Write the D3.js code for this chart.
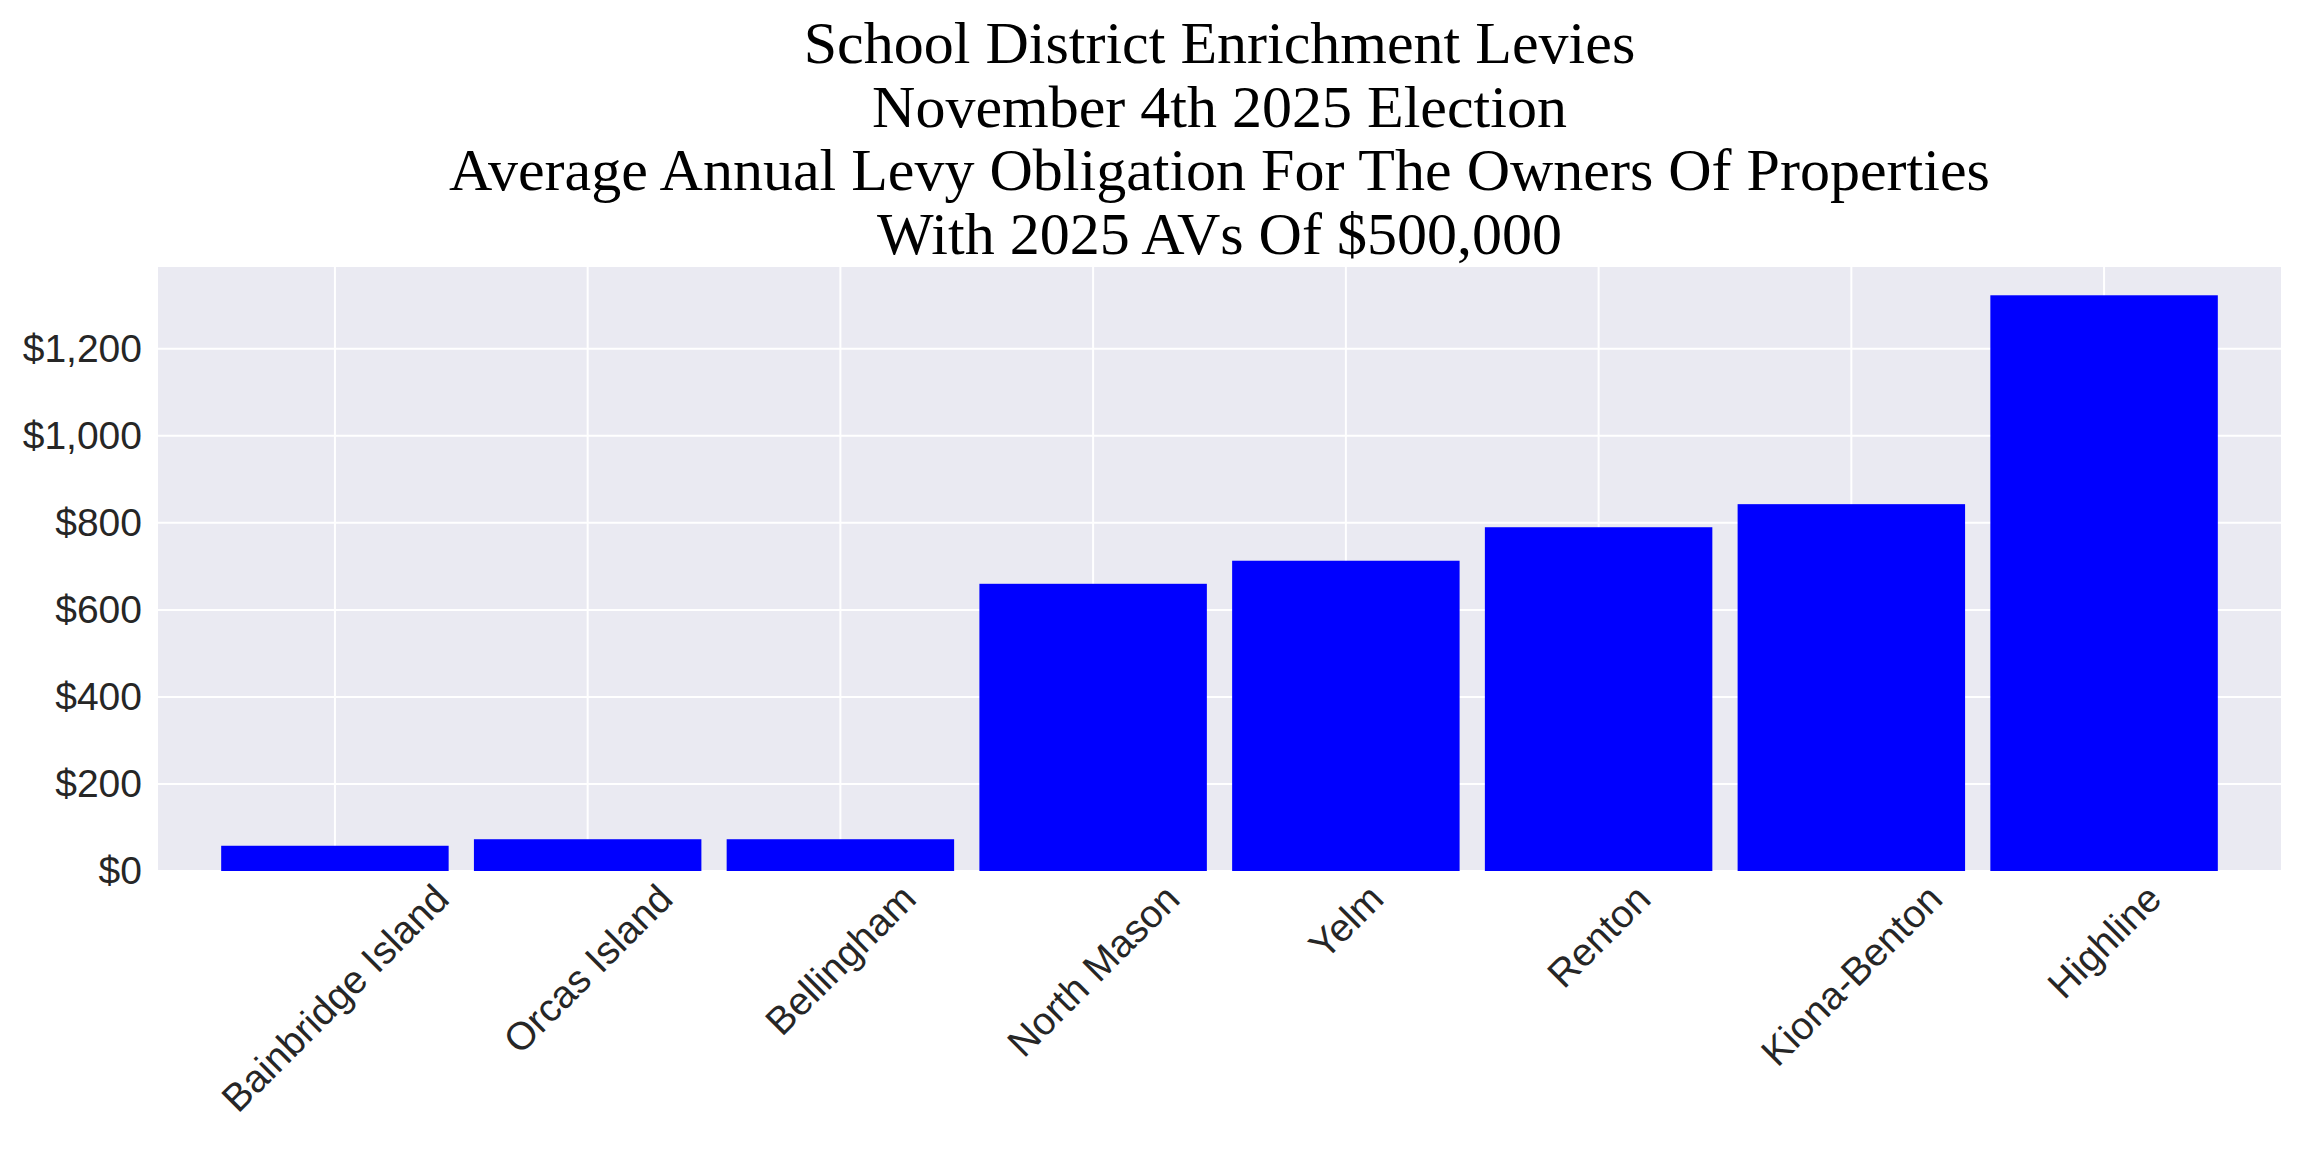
<!DOCTYPE html>
<html><head><meta charset="utf-8">
<script src="https://cdn.jsdelivr.net/npm/d3@7"></script>
<style>body{margin:0;background:#fff}</style></head>
<body><div id="chart"></div>
<script>
const districts = ["Bainbridge Island","Orcas Island","Bellingham","North Mason","Yelm","Renton","Kiona-Benton","Highline"];
const levy = [58, 73, 73, 660, 713, 790, 843, 1323];
const yTicks = [0, 200, 400, 600, 800, 1000, 1200];
const titleLines = ["School District Enrichment Levies","November 4th 2025 Election","Average Annual Levy Obligation For The Owners Of Properties","With 2025 AVs Of $500,000"];

const W = 2304, H = 1152;
const m = {left: 158, right: 23, top: 267, bottom: 281};
const svg = d3.select("#chart").append("svg").attr("width", W).attr("height", H);

const x = d3.scaleLinear().domain([-0.7, districts.length - 0.3]).range([m.left, W - m.right]);
const y = d3.scaleLinear().domain([0, 1388]).range([H - m.bottom, m.top]);

svg.append("rect").attr("x", m.left).attr("y", m.top)
    .attr("width", W - m.right - m.left).attr("height", H - m.bottom - m.top)
    .attr("fill", "#eaeaf2");

// grid
svg.append("g").selectAll("line").data(yTicks).enter().append("line")
    .attr("x1", m.left).attr("x2", W - m.right)
    .attr("y1", d => y(d)).attr("y2", d => y(d))
    .attr("stroke", "#fff").attr("stroke-width", 2);
svg.append("g").selectAll("line").data(districts).enter().append("line")
    .attr("x1", (d, i) => x(i)).attr("x2", (d, i) => x(i))
    .attr("y1", m.top).attr("y2", H - m.bottom)
    .attr("stroke", "#fff").attr("stroke-width", 2);

// bars
svg.append("g").selectAll("rect").data(levy).enter().append("rect")
    .attr("x", (d, i) => x(i - 0.45)).attr("width", x(0.45) - x(-0.45))
    .attr("y", d => y(d)).attr("height", d => y(0) - y(d))
    .attr("fill", "#0000ff");

// y axis
const yAxis = svg.append("g").attr("transform", `translate(${m.left},0)`)
    .call(d3.axisLeft(y).tickValues(yTicks).tickSize(0).tickPadding(16)
        .tickFormat(d => "$" + d3.format(",")(d)));
yAxis.select(".domain").remove();
yAxis.selectAll("text").style("font-family", "Arial, 'Liberation Sans'")
    .style("font-size", "39px").attr("fill", "#262626");

// x axis labels: rotated 45, centred on tick, top of box just below axis
const fs = 39;
const xl = svg.append("g").selectAll("text").data(districts).enter().append("text")
    .style("font-family", "Arial, 'Liberation Sans'").style("font-size", fs + "px")
    .attr("fill", "#262626").attr("text-anchor", "middle").attr("dy", "0.35em")
    .text(d => d);
xl.each(function(d, i) {
    const L = this.getComputedTextLength();
    const bh = (L + fs * 0.9) * Math.SQRT1_2;
    d3.select(this).attr("transform",
        `translate(${x(i)},${H - m.bottom + 8 + bh / 2}) rotate(-45)`);
});

// title
svg.append("g").selectAll("text").data(titleLines).enter().append("text")
    .attr("x", (m.left + W - m.right) / 2).attr("y", (d, i) => 63 + i * 63.5)
    .attr("text-anchor", "middle")
    .style("font-family", "'Times New Roman', 'Liberation Serif', serif")
    .style("font-size", "60px").attr("fill", "#000")
    .text(d => d);
</script></body></html>
